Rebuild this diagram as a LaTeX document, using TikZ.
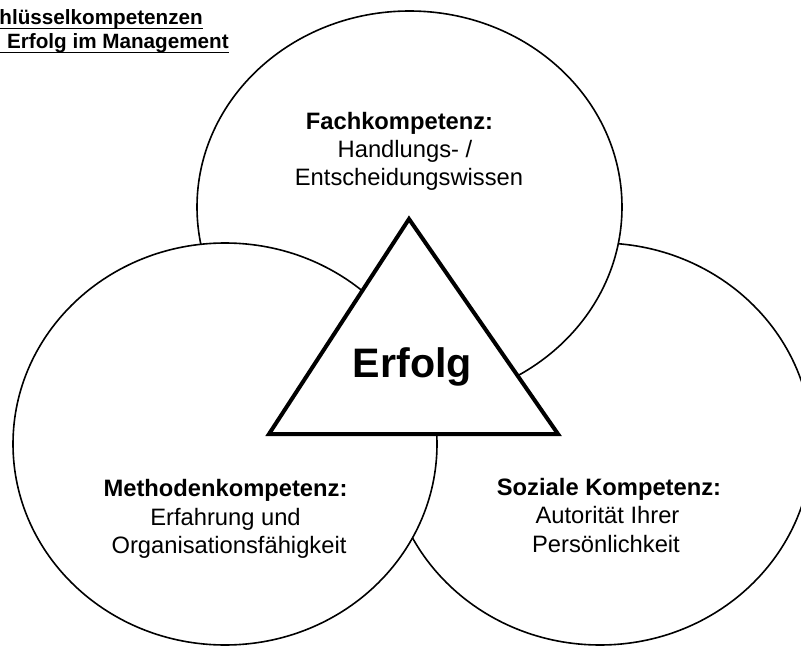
\documentclass[tikz,border=0pt]{standalone}
\usepackage{fontspec}
\setmainfont{Liberation Sans}
\begin{document}
\begin{tikzpicture}[x=0.75pt,y=-0.75pt,
  ring/.style={draw=black,fill=white,line width=1.2pt},
  tri/.style={draw=black,fill=white,line width=3pt,line join=miter},
  head/.style={font=\fontsize{17.8}{21}\selectfont\bfseries,anchor=base,inner sep=0pt},
  body/.style={font=\fontsize{17.8}{21}\selectfont,anchor=base,inner sep=0pt},
  ttl/.style={font=\fontsize{15.5}{18}\selectfont\bfseries,anchor=base east,inner sep=0pt},
  uline/.style={line width=1.1pt}]
\useasboundingbox (0,0) rectangle (801,646);
\begin{scope}
\clip (0,0) rectangle (801,646);
% circles, back to front
\path[ring] (600,444) ellipse [x radius=212, y radius=201];
\path[ring] (409.5,207) ellipse [x radius=212.5, y radius=196];
\path[ring] (225,444) ellipse [x radius=212, y radius=201];
% triangle
\path[tri] (409,219) -- (558,434) -- (269,434) -- cycle;
\end{scope}
\node[font=\fontsize{30.9}{36}\selectfont\bfseries,anchor=base,inner sep=0pt] (erfolg) at (412.5,377) {Erfolg};
% top
\node[head] (fh) at (399.5,129) {Fachkompetenz:};
\node[body] (f1) at (405,157) {Handlungs- /};
\node[body] (f2) at (409,185) {Entscheidungswissen};
% left
\node[head] (mh) at (225.5,496) {Methodenkompetenz:};
\node[body] (m1) at (225.5,525) {Erfahrung und};
\node[body] (m2) at (229,553) {Organisationsfähigkeit};
% right
\node[head] (sh) at (609,495) {Soziale Kompetenz:};
\node[body] (s1) at (607.5,523) {Autorität Ihrer};
\node[body] (s2) at (606,552) {Persönlichkeit};
% title
\node[ttl] (t1) at (203,25) {hlüsselkompetenzen};
\node[ttl] (t2) at (229,48) {Erfolg im Management};
\draw[uline] (0,28.5) -- (t1.east |- 0,28.5);
\draw[uline] (0,52.5) -- (t2.east |- 0,52.5);
\end{tikzpicture}
\end{document}
